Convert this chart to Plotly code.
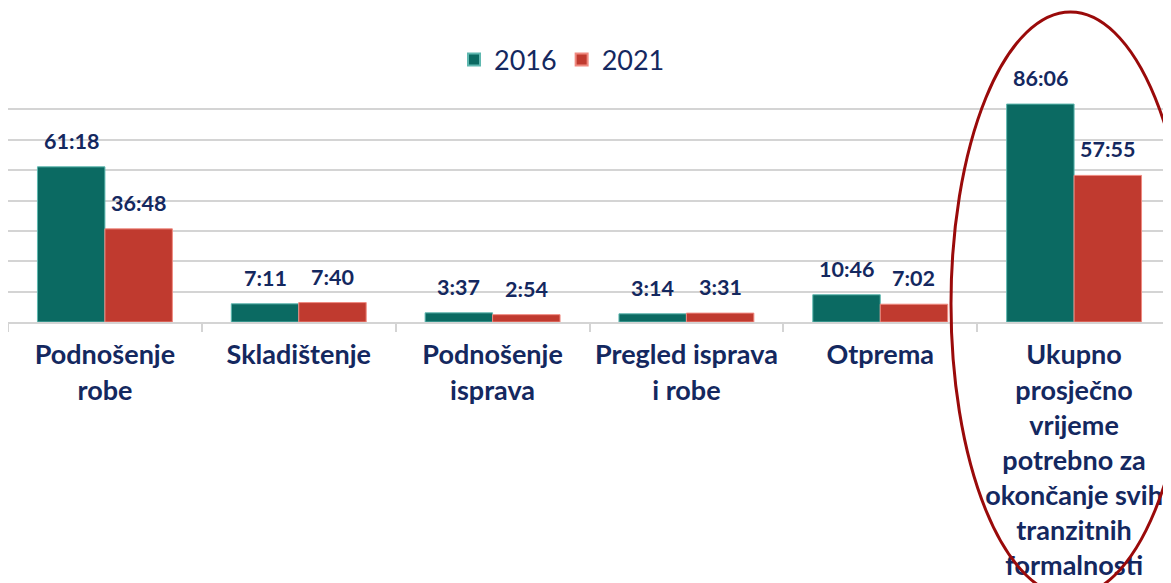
import plotly.graph_objects as go

categories = ["Podnošenje<br>robe", "Skladištenje", "Podnošenje<br>isprava",
              "Pregled isprava<br>i robe", "Otprema",
              "Ukupno<br>prosječno<br>vrijeme<br>potrebno za<br>okončanje svih<br>tranzitnih<br>formalnosti"]
labels_2016 = ["61:18", "7:11", "3:37", "3:14", "10:46", "86:06"]
labels_2021 = ["36:48", "7:40", "2:54", "3:31", "7:02", "57:55"]


def to_hours(s):
    h, m = s.split(":")
    return int(h) + int(m) / 60.0


values_2016 = [to_hours(s) for s in labels_2016]
values_2021 = [to_hours(s) for s in labels_2021]

NAVY = "#14285f"
TEAL = "#0b6a62"
RED = "#c03a2f"
FONT = "Lato"

fig = go.Figure()
fig.add_trace(go.Bar(name="2016", x=categories, y=values_2016,
                     marker=dict(color=TEAL, line=dict(color="#5fb8b0", width=1))))
fig.add_trace(go.Bar(name="2021", x=categories, y=values_2021,
                     marker=dict(color=RED, line=dict(color="#f08a80", width=1))))

annotations = []
for c, v, t in zip(categories, values_2016, labels_2016):
    annotations.append(dict(x=c, y=v, text=t, xref="x", yref="y", showarrow=False,
                            xshift=-33.7, yshift=26, yanchor="middle",
                            font=dict(family=FONT, size=21.5, color=NAVY, weight="bold")))
for c, v, t in zip(categories, values_2021, labels_2021):
    annotations.append(dict(x=c, y=v, text=t, xref="x", yref="y", showarrow=False,
                            xshift=33.7, yshift=26, yanchor="middle",
                            font=dict(family=FONT, size=21.5, color=NAVY, weight="bold")))

# page body has an 8px margin
W, H = 1171, 575
OFF = 8
L, R, T, B = 0, 8, 71, 261
pw, ph = W - L - R, H - T - B


def px(x):
    return (x - OFF - L) / pw


def py(y):
    return (H - B - (y - OFF)) / ph


fig.add_shape(type="circle", xref="paper", yref="paper",
              x0=px(951), x1=px(1190), y0=py(596), y1=py(12),
              line=dict(color="#9a0a0a", width=3), fillcolor="rgba(0,0,0,0)", layer="above")

fig.update_layout(
    width=W, height=H,
    margin=dict(l=L, r=R, t=T, b=B, autoexpand=False),
    paper_bgcolor="white", plot_bgcolor="white",
    barmode="group", bargap=0.304, bargroupgap=0,
    annotations=annotations,
    legend=dict(orientation="h", x=px(562), xanchor="center", y=py(60), yanchor="middle",
                font=dict(family=FONT, size=27, color=NAVY), itemsizing="constant",
                bgcolor="rgba(0,0,0,0)"),
    xaxis=dict(showgrid=False, showline=True, linecolor="#d4d4d4", linewidth=2,
               ticks="outside", tickson="boundaries", ticklen=8, tickcolor="#d4d4d4",
               tickwidth=2, ticklabelstandoff=8,
               tickfont=dict(family=FONT, size=27, color=NAVY, weight="bold"),
               fixedrange=True),
    yaxis=dict(range=[0, 96], dtick=12, showticklabels=False, showgrid=True,
               gridcolor="#d4d4d4", gridwidth=2, zeroline=False, fixedrange=True),
)

fig.write_html("out.html")
